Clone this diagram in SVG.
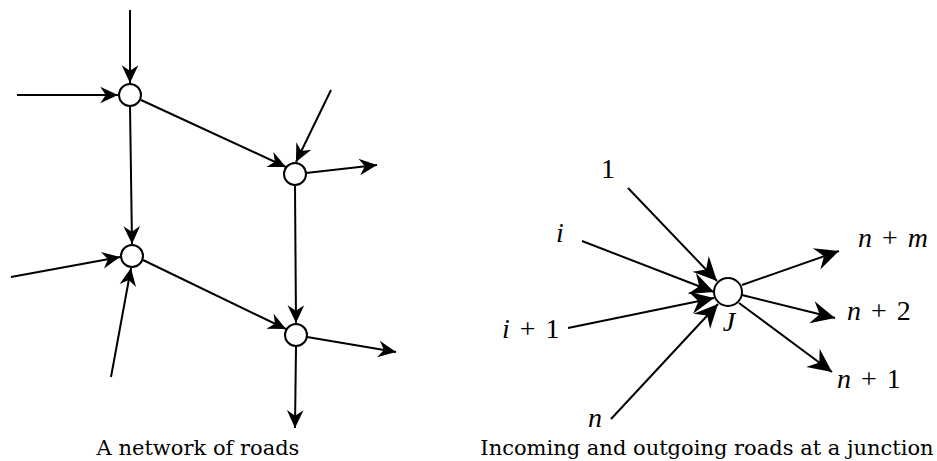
<svg xmlns="http://www.w3.org/2000/svg" width="937" height="461" viewBox="0 0 937 461">
<style>
.e{stroke:#000;stroke-width:2;fill:none}
.n{fill:#fff;stroke:#000;stroke-width:2}
.cap{font-family:"DejaVu Serif",serif;font-size:21px;fill:#000}
.m{font-family:"Liberation Serif",serif;font-size:28px;fill:#000;word-spacing:3px}
.mi{font-style:italic}
</style>
<defs>
<marker id="a" markerUnits="userSpaceOnUse" markerWidth="20" markerHeight="20" viewBox="-17 -9 18 18" refX="0" refY="0" orient="auto">
<path d="M0,0 L-16,-7.5 L-11,0 L-16,7.5 Z" fill="#000"/>
</marker>
<marker id="b" markerUnits="userSpaceOnUse" markerWidth="26" markerHeight="26" viewBox="-22 -11 23 22" refX="0" refY="0" orient="auto">
<path d="M0,0 L-21,-10 L-14,0 L-21,10 Z" fill="#000"/>
</marker>
</defs>
<rect width="937" height="461" fill="#fff"/>
<g id="connectors">
<line class="e" x1="130" y1="10" x2="130" y2="83" marker-end="url(#a)"/>
<line class="e" x1="17" y1="95" x2="118" y2="95" marker-end="url(#a)"/>
<line class="e" x1="141" y1="100" x2="286" y2="167" marker-end="url(#a)"/>
<line class="e" x1="331" y1="90" x2="296" y2="162" marker-end="url(#a)"/>
<line class="e" x1="306" y1="173" x2="377" y2="165" marker-end="url(#a)"/>
<line class="e" x1="130" y1="106" x2="132" y2="244" marker-end="url(#a)"/>
<line class="e" x1="295" y1="186" x2="296" y2="323" marker-end="url(#a)"/>
<line class="e" x1="11" y1="277" x2="120" y2="257" marker-end="url(#a)"/>
<line class="e" x1="111" y1="377" x2="131" y2="268" marker-end="url(#a)"/>
<line class="e" x1="143" y1="260" x2="286" y2="329" marker-end="url(#a)"/>
<line class="e" x1="307" y1="337" x2="396" y2="352" marker-end="url(#a)"/>
<line class="e" x1="296" y1="347" x2="295" y2="428" marker-end="url(#a)"/>
<line class="e" x1="628" y1="188" x2="717" y2="281" marker-end="url(#b)"/>
<line class="e" x1="582" y1="241" x2="714" y2="292" marker-end="url(#b)"/>
<line class="e" x1="568" y1="328" x2="714" y2="298" marker-end="url(#b)"/>
<line class="e" x1="611" y1="419" x2="718" y2="304" marker-end="url(#b)"/>
<line class="e" x1="742" y1="285" x2="839" y2="251" marker-end="url(#b)"/>
<line class="e" x1="742" y1="295" x2="835" y2="318" marker-end="url(#b)"/>
<line class="e" x1="739" y1="303" x2="832" y2="372" marker-end="url(#b)"/>
</g>
<g id="nodeA"><circle class="n" cx="130" cy="95" r="11"/></g>
<g id="nodeB"><circle class="n" cx="295" cy="174" r="11"/></g>
<g id="nodeC"><circle class="n" cx="132" cy="256" r="11"/></g>
<g id="nodeD"><circle class="n" cx="296" cy="335" r="11"/></g>
<g id="nodeJ"><circle class="n" cx="728" cy="292" r="14"/><text class="m mi" x="729" y="331" text-anchor="middle">J</text></g>
<g id="labels">
<text class="m" x="608" y="178" text-anchor="middle">1</text>
<text class="m mi" x="560" y="242" text-anchor="middle">i</text>
<text class="m" x="502" y="338" xml:space="preserve"><tspan class="mi">i</tspan> + 1</text>
<text class="m mi" x="595" y="427" text-anchor="middle">n</text>
<text class="m" x="858" y="247" xml:space="preserve"><tspan class="mi">n</tspan> + <tspan class="mi">m</tspan></text>
<text class="m" x="847" y="320" xml:space="preserve"><tspan class="mi">n</tspan> + 2</text>
<text class="m" x="837" y="388" xml:space="preserve"><tspan class="mi">n</tspan> + 1</text>
<text class="cap" x="198" y="455" text-anchor="middle">A network of roads</text>
<text class="cap" x="707" y="455" text-anchor="middle">Incoming and outgoing roads at a junction</text>
</g>
</svg>
